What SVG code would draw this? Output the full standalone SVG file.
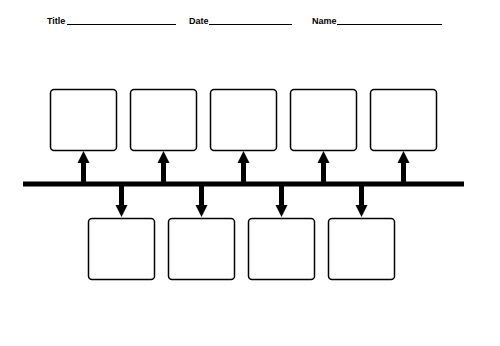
<svg xmlns="http://www.w3.org/2000/svg" width="500" height="346" viewBox="0 0 500 346">
<style>
.lbl{font-family:"Liberation Sans",Arial,sans-serif;font-weight:bold;font-size:9px;fill:#000}
.ul{stroke:#000;stroke-width:1}
.box{fill:#fff;stroke:#000;stroke-width:1.5}
.stem{stroke:#000;stroke-width:5;fill:none}
.head{fill:#000}
</style>
<rect width="500" height="346" fill="#fff"/>
<g id="header">
<text class="lbl" x="47" y="24">Title</text>
<line class="ul" x1="67" y1="24.5" x2="176" y2="24.5"/>
<text class="lbl" x="189" y="24">Date</text>
<line class="ul" x1="209" y1="24.5" x2="292" y2="24.5"/>
<text class="lbl" x="312" y="24">Name</text>
<line class="ul" x1="337" y1="24.5" x2="442" y2="24.5"/>
</g>
<g id="connectors">
<line class="stem" x1="23" y1="184" x2="464" y2="184"/>
<g id="up-arrows">
<line class="stem" x1="83.5" y1="184" x2="83.5" y2="160"/><polygon class="head" points="77.5,163 83.5,151 89.5,163"/>
<line class="stem" x1="163.5" y1="184" x2="163.5" y2="160"/><polygon class="head" points="157.5,163 163.5,151 169.5,163"/>
<line class="stem" x1="243.5" y1="184" x2="243.5" y2="160"/><polygon class="head" points="237.5,163 243.5,151 249.5,163"/>
<line class="stem" x1="323.5" y1="184" x2="323.5" y2="160"/><polygon class="head" points="317.5,163 323.5,151 329.5,163"/>
<line class="stem" x1="403.5" y1="184" x2="403.5" y2="160"/><polygon class="head" points="397.5,163 403.5,151 409.5,163"/>
</g>
<g id="down-arrows">
<line class="stem" x1="121.5" y1="184" x2="121.5" y2="208"/><polygon class="head" points="115.5,205 121.5,217 127.5,205"/>
<line class="stem" x1="201.5" y1="184" x2="201.5" y2="208"/><polygon class="head" points="195.5,205 201.5,217 207.5,205"/>
<line class="stem" x1="281.5" y1="184" x2="281.5" y2="208"/><polygon class="head" points="275.5,205 281.5,217 287.5,205"/>
<line class="stem" x1="361.5" y1="184" x2="361.5" y2="208"/><polygon class="head" points="355.5,205 361.5,217 367.5,205"/>
</g>
</g>
<g id="top1"><rect class="box" x="50.5" y="89.5" width="66" height="61" rx="3.5"/></g>
<g id="top2"><rect class="box" x="130.5" y="89.5" width="66" height="61" rx="3.5"/></g>
<g id="top3"><rect class="box" x="210.5" y="89.5" width="66" height="61" rx="3.5"/></g>
<g id="top4"><rect class="box" x="290.5" y="89.5" width="66" height="61" rx="3.5"/></g>
<g id="top5"><rect class="box" x="370.5" y="89.5" width="66" height="61" rx="3.5"/></g>
<g id="bottom1"><rect class="box" x="88.5" y="218.5" width="66" height="61" rx="3.5"/></g>
<g id="bottom2"><rect class="box" x="168.5" y="218.5" width="66" height="61" rx="3.5"/></g>
<g id="bottom3"><rect class="box" x="248.5" y="218.5" width="66" height="61" rx="3.5"/></g>
<g id="bottom4"><rect class="box" x="328.5" y="218.5" width="66" height="61" rx="3.5"/></g>
</svg>
